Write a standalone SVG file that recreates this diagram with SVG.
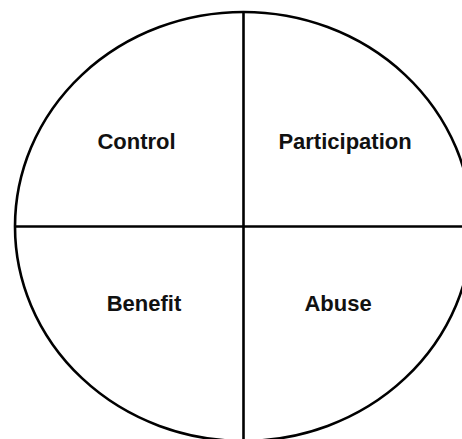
<svg xmlns="http://www.w3.org/2000/svg" width="462" height="439" viewBox="0 0 462 439">
<style>
.lbl{font-family:"Liberation Sans",Arial,sans-serif;font-weight:bold;font-size:22px;fill:#111;text-anchor:middle}
.ln{stroke:#000;stroke-width:2.6;fill:none}
</style>
<rect width="462" height="439" fill="#fff"/>
<g id="connectors">
<ellipse class="ln" cx="243.5" cy="226.5" rx="228.5" ry="214.5"/>
<line class="ln" x1="243.5" y1="12" x2="243.5" y2="441"/>
<line class="ln" x1="15" y1="226.5" x2="472" y2="226.5"/>
</g>
<g id="control"><text class="lbl" x="136.5" y="149">Control</text></g>
<g id="participation"><text class="lbl" x="345" y="149">Participation</text></g>
<g id="benefit"><text class="lbl" x="144" y="311">Benefit</text></g>
<g id="abuse"><text class="lbl" x="338" y="311">Abuse</text></g>
</svg>
